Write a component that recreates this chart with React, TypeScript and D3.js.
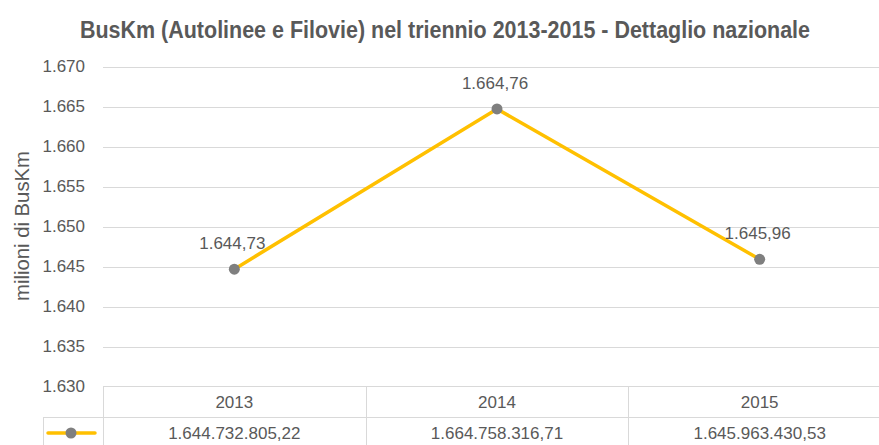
import React, { useRef, useEffect } from 'react';
import * as d3 from 'd3';

const WIDTH = 879;
const HEIGHT = 445;

const YEARS = ['2013', '2014', '2015'];
const BUSKM = [1644732805.22, 1664758316.71, 1645963430.53];
const Y_TICKS = [1630, 1635, 1640, 1645, 1650, 1655, 1660, 1665, 1670];

const TITLE = 'BusKm (Autolinee e Filovie) nel triennio 2013-2015 - Dettaglio nazionale';
const Y_LABEL = 'milioni di BusKm';

const FONT = "'Liberation Sans', Arial, sans-serif";
const TEXT = '#595959';
const GRID = '#D9D9D9';
const LINE = '#FFC000';
const MARKER = '#7F7F7F';

const it = d3.formatLocale({ decimal: ',', thousands: '.', grouping: [3], currency: ['€', ''] });
const fmtTick = it.format(',.0f');
const fmt2 = it.format(',.2f');

export default function App() {
  const svgRef = useRef<SVGSVGElement>(null);

  useEffect(() => {
    const svg = d3.select(svgRef.current);
    svg.selectAll('*').remove();

    const data = YEARS.map((year, i) => ({ year, raw: BUSKM[i], mil: BUSKM[i] / 1e6 }));

    const x = d3.scaleBand().domain(YEARS).range([103, 891]).padding(0);
    const y = d3.scaleLinear().domain([1630, 1670]).range([387, 67]);

    svg.append('rect').attr('width', WIDTH).attr('height', HEIGHT).attr('fill', '#fff');

    // title
    svg.append('text')
      .attr('x', 445).attr('y', 38)
      .attr('text-anchor', 'middle')
      .attr('font-family', FONT).attr('font-weight', 'bold').attr('font-size', 23)
      .attr('fill', TEXT)
      .attr('textLength', 730).attr('lengthAdjust', 'spacingAndGlyphs')
      .text(TITLE);

    // gridlines
    svg.append('g').selectAll('line')
      .data(Y_TICKS.slice(1))
      .join('line')
      .attr('x1', 103).attr('x2', WIDTH)
      .attr('y1', d => Math.round(y(d)) + 0.5).attr('y2', d => Math.round(y(d)) + 0.5)
      .attr('stroke', GRID).attr('stroke-width', 1);

    // y tick labels
    svg.append('g').selectAll('text')
      .data(Y_TICKS)
      .join('text')
      .attr('x', 85).attr('y', d => y(d) - 1)
      .attr('dy', '0.35em')
      .attr('text-anchor', 'end')
      .attr('font-family', FONT).attr('font-size', 17).attr('fill', TEXT)
      .text(d => fmtTick(d));

    // y axis title
    svg.append('text')
      .attr('transform', `translate(29,${226}) rotate(-90)`)
      .attr('text-anchor', 'middle')
      .attr('font-family', FONT).attr('font-size', 20).attr('fill', TEXT)
      .attr('textLength', 150).attr('lengthAdjust', 'spacingAndGlyphs')
      .text(Y_LABEL);

    const cx = (d: { year: string }) => (x(d.year) as number) + x.bandwidth() / 2;

    // series line
    const line = d3.line<{ year: string; mil: number }>()
      .x(d => cx(d)).y(d => y(d.mil));
    svg.append('path').datum(data).attr('d', line)
      .attr('fill', 'none').attr('stroke', LINE).attr('stroke-width', 3.5)
      .attr('stroke-linejoin', 'round');

    svg.append('g').selectAll('circle')
      .data(data)
      .join('circle')
      .attr('cx', d => cx(d)).attr('cy', d => y(d.mil)).attr('r', 5.5)
      .attr('fill', MARKER);

    // data labels
    svg.append('g').selectAll('text')
      .data(data)
      .join('text')
      .attr('x', d => cx(d) - 2).attr('y', d => y(d.mil) - 20)
      .attr('text-anchor', 'middle')
      .attr('font-family', FONT).attr('font-size', 17).attr('fill', TEXT)
      .text(d => fmt2(d.mil));

    // data table
    const tbl = svg.append('g').attr('stroke', GRID).attr('stroke-width', 1);
    tbl.append('line').attr('x1', 103).attr('x2', WIDTH).attr('y1', 386.5).attr('y2', 386.5);
    tbl.append('line').attr('x1', 43).attr('x2', WIDTH).attr('y1', 417.5).attr('y2', 417.5);
    tbl.append('line').attr('x1', 43.5).attr('x2', 43.5).attr('y1', 417).attr('y2', HEIGHT);
    tbl.selectAll('line.col')
      .data(YEARS)
      .join('line')
      .attr('class', 'col')
      .attr('x1', d => Math.round(x(d) as number) + 0.5).attr('x2', d => Math.round(x(d) as number) + 0.5)
      .attr('y1', 386).attr('y2', HEIGHT);

    svg.append('g').selectAll('text')
      .data(data)
      .join('text')
      .attr('x', d => cx(d)).attr('y', 402).attr('dy', '0.35em')
      .attr('text-anchor', 'middle')
      .attr('font-family', FONT).attr('font-size', 17).attr('fill', TEXT)
      .text(d => d.year);

    svg.append('g').selectAll('text')
      .data(data)
      .join('text')
      .attr('x', d => cx(d)).attr('y', 433).attr('dy', '0.35em')
      .attr('text-anchor', 'middle')
      .attr('font-family', FONT).attr('font-size', 17).attr('fill', TEXT)
      .text(d => fmt2(d.raw));

    // legend key
    svg.append('line').attr('x1', 48).attr('x2', 95).attr('y1', 433).attr('y2', 433)
      .attr('stroke', LINE).attr('stroke-width', 3.5).attr('stroke-linecap', 'round');
    svg.append('circle').attr('cx', 71).attr('cy', 433).attr('r', 5.5).attr('fill', MARKER);
  }, []);

  return (
    <svg ref={svgRef} width={WIDTH} height={HEIGHT}
      style={{ position: 'absolute', left: 0, top: 0, display: 'block' }} />
  );
}
